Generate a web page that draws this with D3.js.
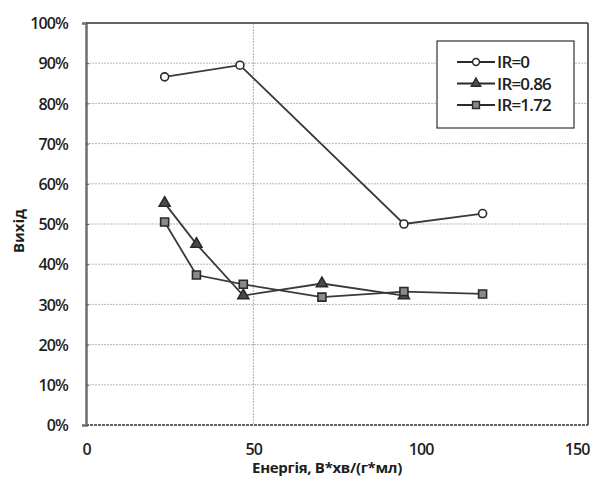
<!DOCTYPE html>
<html>
<head>
<meta charset="utf-8">
<script src="https://cdn.jsdelivr.net/npm/d3@7"></script>
<style>
  html, body { margin: 0; padding: 0; background: #fff; }
  svg { display: block; }
  text { font-family: "Open Sans", "Noto Sans", sans-serif; fill: #1e1e1e; }
</style>
</head>
<body>
<svg id="chart" width="596" height="483"></svg>
<script>
// Energy input, V*min/(g*ml), for each series
const energyIR0 = [23.5, 46, 95, 118.5];
const energyIR086 = [23.5, 33, 47, 70.5, 95];
const energyIR172 = [23.5, 33, 47, 70.5, 95, 118.5];

// Yield (fraction) for each series
const yieldIR0 = [0.866, 0.895, 0.50, 0.526];
const yieldIR086 = [0.552, 0.450, 0.322, 0.352, 0.322];
const yieldIR172 = [0.505, 0.373, 0.350, 0.318, 0.332, 0.326];

const seriesNames = ["IR=0", "IR=0.86", "IR=1.72"];
const xTicks = [0, 50, 100, 150];
const yTicks = [0, 0.1, 0.2, 0.3, 0.4, 0.5, 0.6, 0.7, 0.8, 0.9, 1.0];
const xTitle = "Енергія, В*хв/(г*мл)";
const yTitle = "Вихід";

const svg = d3.select("#chart");
const plotL = 86, plotR = 588, plotT = 23, plotB = 425;

const x = d3.scaleLinear().domain([0, 150]).range([plotL, plotR]);
const y = d3.scaleLinear().domain([0, 1]).range([plotB, plotT]);

// horizontal gridlines
svg.append("g")
  .selectAll("line")
  .data(yTicks.filter(d => d > 0 && d < 1))
  .join("line")
  .attr("x1", plotL).attr("x2", plotR)
  .attr("y1", d => y(d)).attr("y2", d => y(d))
  .attr("stroke", "#b8b8b8").attr("stroke-width", 1)
  .attr("stroke-dasharray", "2,1");

// vertical gridline at 50
svg.append("line")
  .attr("x1", x(50)).attr("x2", x(50))
  .attr("y1", plotT).attr("y2", plotB)
  .attr("stroke", "#b0b0b0").attr("stroke-width", 1)
  .attr("stroke-dasharray", "2,1");

// plot frame
svg.append("line").attr("x1", plotL).attr("x2", plotR).attr("y1", plotT).attr("y2", plotT)
  .attr("stroke", "#333").attr("stroke-width", 1.5);
svg.append("line").attr("x1", plotR).attr("x2", plotR).attr("y1", plotT).attr("y2", plotB)
  .attr("stroke", "#333").attr("stroke-width", 1.5);
svg.append("line").attr("x1", plotL).attr("x2", plotR).attr("y1", plotB).attr("y2", plotB)
  .attr("stroke", "#333").attr("stroke-width", 1.5).attr("stroke-dasharray", "3,1");

// y axis
const yAxis = d3.axisLeft(y).tickValues(yTicks).tickFormat(d3.format(".0%")).tickSize(4).tickPadding(14);
const gy = svg.append("g").attr("transform", `translate(${plotL},0)`).call(yAxis);
gy.select(".domain").attr("stroke", "#6e6e6e").attr("stroke-width", 2.5);
gy.selectAll(".tick line").attr("stroke", "#555").attr("x2", 3).attr("x1", 0);
gy.selectAll(".tick text").style("font-size", "16px").style("font-weight", "600")
  .attr("fill", "#1e1e1e").style("letter-spacing", "-0.9px").attr("dy", "0.35em");

// x axis (labels only; the frame draws the baseline)
const xAxis = d3.axisBottom(x).tickValues(xTicks).tickSize(0).tickPadding(19);
const gx = svg.append("g").attr("transform", `translate(0,${plotB})`).call(xAxis);
gx.select(".domain").remove();
gx.selectAll(".tick text").style("font-size", "16px").style("font-weight", "600")
  .attr("fill", "#1e1e1e").style("letter-spacing", "-0.9px")
  .attr("text-anchor", d => d === 150 ? "end" : "middle")
  .attr("dx", d => d === 150 ? "1px" : 0);

// axis titles
svg.append("text")
  .attr("x", 327).attr("y", 473)
  .attr("text-anchor", "middle")
  .style("font-size", "15px").style("font-weight", "bold").style("letter-spacing", "-0.3px")
  .text(xTitle);
svg.append("text")
  .attr("transform", "translate(24,231) rotate(-90)")
  .attr("text-anchor", "middle")
  .style("font-size", "15px").style("font-weight", "bold")
  .text(yTitle);

const line = d3.line().x(d => x(d[0])).y(d => y(d[1]));
const series = [
  { name: seriesNames[0], pts: d3.zip(energyIR0, yieldIR0), sym: d3.symbolCircle, size: 50, fill: "#fff" },
  { name: seriesNames[1], pts: d3.zip(energyIR086, yieldIR086), sym: d3.symbolTriangle, size: 52, fill: "#4a4a4a" },
  { name: seriesNames[2], pts: d3.zip(energyIR172, yieldIR172), sym: d3.symbolSquare, size: 64, fill: "#8a8a8a" }
];

series.forEach(s => {
  svg.append("path")
    .attr("d", line(s.pts))
    .attr("fill", "none").attr("stroke", "#3a3a3a").attr("stroke-width", 1.8);
});
series.forEach(s => {
  svg.append("g").selectAll("path")
    .data(s.pts)
    .join("path")
    .attr("transform", d => `translate(${x(d[0])},${y(d[1])})`)
    .attr("d", d3.symbol().type(s.sym).size(s.size))
    .attr("fill", s.fill).attr("stroke", "#2a2a2a").attr("stroke-width", 1.6);
});

// legend
const lg = svg.append("g");
lg.append("rect").attr("x", 437).attr("y", 41).attr("width", 137).attr("height", 87)
  .attr("fill", "#fff").attr("stroke", "#333").attr("stroke-width", 1.2);
series.forEach((s, i) => {
  const cy = 62 + i * 21.5;
  lg.append("line").attr("x1", 457).attr("x2", 495).attr("y1", cy).attr("y2", cy)
    .attr("stroke", "#2a2a2a").attr("stroke-width", 1.8);
  lg.append("path").attr("transform", `translate(476,${cy})`)
    .attr("d", d3.symbol().type(s.sym).size(s.size * 0.75))
    .attr("fill", s.fill).attr("stroke", "#2a2a2a").attr("stroke-width", 1.4);
  lg.append("text").attr("x", 497).attr("y", cy).attr("dy", "0.36em")
    .style("font-size", "17px").style("font-weight", "600").style("letter-spacing", "-0.8px")
    .text(s.name);
});
</script>
</body>
</html>
